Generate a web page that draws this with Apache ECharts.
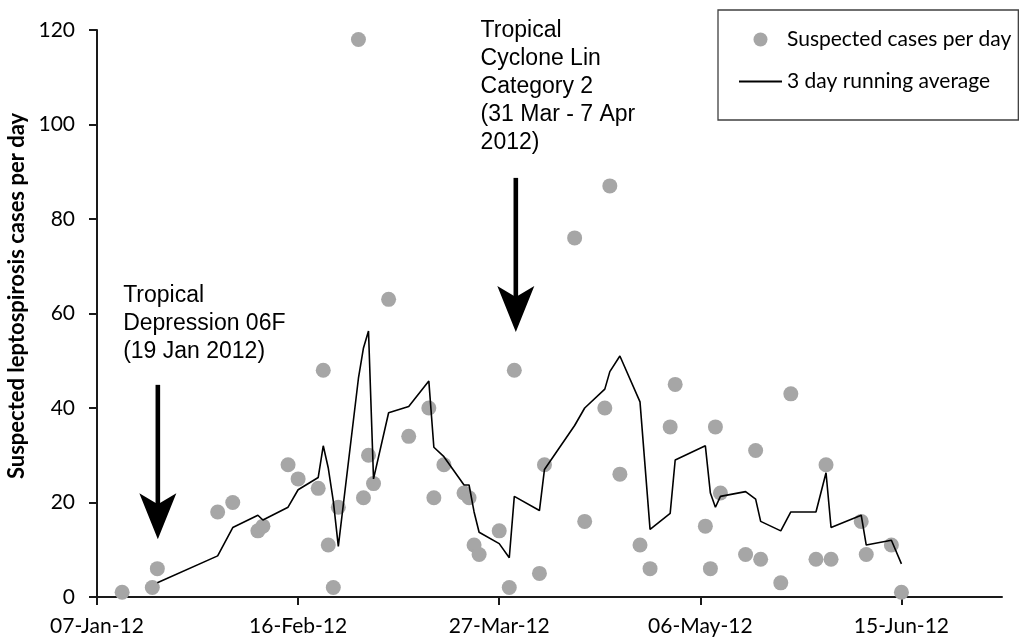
<!DOCTYPE html>
<html>
<head>
<meta charset="utf-8">
<script src="https://cdn.jsdelivr.net/npm/echarts@6/dist/echarts.min.js"></script>
<style>
html,body{margin:0;padding:0;background:#fff;}
#chart{width:1027px;height:639px;}
</style>
</head>
<body>
<div id="chart"></div>
<script>
// ---- data ----
const caseDates = [
  '2012-01-12','2012-01-18','2012-01-19','2012-01-31','2012-02-03','2012-02-08','2012-02-09',
  '2012-02-14','2012-02-16','2012-02-20','2012-02-21','2012-02-22','2012-02-23','2012-02-24',
  '2012-02-28','2012-02-29','2012-03-01','2012-03-02','2012-03-05','2012-03-09','2012-03-13',
  '2012-03-14','2012-03-16','2012-03-20','2012-03-21','2012-03-22','2012-03-23','2012-03-27',
  '2012-03-29','2012-03-30','2012-04-04','2012-04-05','2012-04-11','2012-04-13','2012-04-17',
  '2012-04-18','2012-04-20','2012-04-24','2012-04-26','2012-04-30','2012-05-01','2012-05-07',
  '2012-05-08','2012-05-09','2012-05-10','2012-05-15','2012-05-17','2012-05-18','2012-05-22',
  '2012-05-24','2012-05-29','2012-05-31','2012-06-01','2012-06-07','2012-06-08','2012-06-13',
  '2012-06-15'
];
const caseValues = [
  1, 2, 6, 18, 20, 14, 15,
  28, 25, 23, 48, 11, 2, 19,
  118, 21, 30, 24, 63, 34, 40,
  21, 28, 22, 21, 11, 9, 14,
  2, 48, 5, 28, 76, 16, 40,
  87, 26, 11, 6, 36, 45, 15,
  6, 36, 22, 9, 31, 8, 3,
  43, 8, 28, 8, 16, 9, 11,
  1
];
const avgDates = [
  '2012-01-19','2012-01-31','2012-02-03','2012-02-08','2012-02-09',
  '2012-02-14','2012-02-16','2012-02-20','2012-02-21','2012-02-22','2012-02-23','2012-02-24',
  '2012-02-28','2012-02-29','2012-03-01','2012-03-02','2012-03-05','2012-03-09','2012-03-13',
  '2012-03-14','2012-03-16','2012-03-20','2012-03-21','2012-03-22','2012-03-23','2012-03-27',
  '2012-03-29','2012-03-30','2012-04-04','2012-04-05','2012-04-11','2012-04-13','2012-04-17',
  '2012-04-18','2012-04-20','2012-04-24','2012-04-26','2012-04-30','2012-05-01','2012-05-07',
  '2012-05-08','2012-05-09','2012-05-10','2012-05-15','2012-05-17','2012-05-18','2012-05-22',
  '2012-05-24','2012-05-29','2012-05-31','2012-06-01','2012-06-07','2012-06-08','2012-06-13',
  '2012-06-15'
];
const avgValues = [
  3, 8.7, 14.7, 17.3, 16.3,
  19, 22.7, 25.3, 32, 27.3, 20.3, 10.7,
  46.3, 52.7, 56.3, 25, 39, 40.3, 45.7,
  31.7, 29.7, 23.7, 23.7, 18, 13.7, 11.3,
  8.3, 21.3, 18.3, 27, 36.3, 40, 44,
  47.7, 51, 41.3, 14.3, 17.7, 29, 32,
  22, 19, 21.3, 22.3, 20.7, 16, 14,
  18, 18, 26.3, 14.7, 17.3, 11, 12,
  7
];
const xTickDays = [0, 40, 80, 120, 160];
const xTickLabels = ['07-Jan-12', '16-Feb-12', '27-Mar-12', '06-May-12', '15-Jun-12'];
const seriesNames = ['Suspected cases per day', '3 day running average'];
const yAxisTitle = 'Suspected leptospirosis cases per day';
const note1 = 'Tropical\nDepression 06F\n(19 Jan 2012)';
const note2 = 'Tropical\nCyclone Lin\nCategory 2\n(31 Mar - 7 Apr\n2012)';

// ---- helpers ----
const BASE = Date.UTC(2012, 0, 7);
function dayOf(s) {
  const p = s.split('-').map(Number);
  return Math.round((Date.UTC(p[0], p[1] - 1, p[2]) - BASE) / 86400000);
}
const scatterData = caseDates.map((d, i) => [dayOf(d), caseValues[i]]);
const lineData = avgDates.map((d, i) => [dayOf(d), avgValues[i]]);

const chart = echarts.init(document.getElementById('chart'), null, {renderer: 'canvas'});
const axisColor = '#1a1a1a';
const labelFont = 'Lato';

chart.setOption({
  animation: false,
  backgroundColor: '#ffffff',
  grid: {left: 97, right: 25, top: 30, bottom: 42, outerBoundsMode: 'none'},
  legend: {
    orient: 'vertical',
    left: 718, top: 10,
    padding: [19, 7, 28, 21],
    itemGap: 21,
    itemWidth: 43, itemHeight: 14,
    borderColor: '#404040', borderWidth: 1.3,
    textStyle: {fontFamily: labelFont, fontSize: 21, color: '#000'},
    data: [
      {name: seriesNames[0], icon: 'circle'},
      {name: seriesNames[1], icon: 'path://M0,0L43,0L43,2L0,2Z'}
    ]
  },
  xAxis: {
    type: 'value',
    min: 0, max: 180, interval: 40,
    splitLine: {show: false},
    axisLine: {show: true, onZero: false, lineStyle: {color: axisColor, width: 2}},
    axisTick: {show: true, inside: false, length: 8, lineStyle: {color: axisColor, width: 2}, customValues: xTickDays},
    axisLabel: {
      customValues: xTickDays,
      margin: 19,
      fontFamily: labelFont, fontSize: 21, color: '#000',
      formatter: v => xTickLabels[xTickDays.indexOf(v)] || ''
    }
  },
  yAxis: {
    type: 'value',
    min: 0, max: 120, interval: 20,
    splitLine: {show: false},
    axisLine: {show: true, lineStyle: {color: axisColor, width: 2}},
    axisTick: {show: true, length: 8, lineStyle: {color: axisColor, width: 2}},
    axisLabel: {margin: 22, fontFamily: labelFont, fontSize: 21, color: '#000'},
    name: yAxisTitle,
    nameLocation: 'middle',
    nameRotate: 90,
    nameGap: 66,
    nameTextStyle: {fontFamily: labelFont, fontSize: 22, fontWeight: 'bold', color: '#000', padding: [0, 0, 0, 35]}
  },
  series: [
    {
      name: seriesNames[0],
      type: 'scatter',
      data: scatterData,
      symbol: 'circle',
      symbolSize: 15,
      itemStyle: {color: '#A6A6A6', opacity: 1},
      z: 2
    },
    {
      name: seriesNames[1],
      type: 'line',
      data: lineData,
      symbol: 'none',
      showSymbol: false,
      lineStyle: {color: '#000', width: 1.6},
      itemStyle: {color: '#000'},
      z: 3
    }
  ]
});

// ---- annotations (positioned in data space, converted via the axes) ----
function px(d, v) { return chart.convertToPixel({gridIndex: 0}, [d, v]); }
function arrow(d, vTop, vTip) {
  const a = px(d, vTop), t = px(d, vTip);
  const hw = 18.5, hl = 46, notch = 35;
  return [
    {type: 'line', shape: {x1: a[0], y1: a[1], x2: t[0], y2: t[1] - notch + 2},
     style: {stroke: '#000', lineWidth: 4.6}, z: 10},
    {type: 'polygon', shape: {points: [[t[0], t[1]], [t[0] + hw, t[1] - hl], [t[0], t[1] - notch], [t[0] - hw, t[1] - hl]]},
     style: {fill: '#000'}, z: 10}
  ];
}
function note(text, d, v) {
  const p = px(d, v);
  return {type: 'text', x: p[0], y: p[1], z: 10,
    style: {text: text, fontFamily: '"Liberation Sans", Arial, sans-serif', fontSize: 23, lineHeight: 28,
            fill: '#000', align: 'left', verticalAlign: 'top'}};
}
chart.setOption({
  graphic: [].concat(
    arrow(12.1, 44.9, 12.2),
    arrow(83.3, 88.7, 56.1),
    [note(note1, 5.2, 66.8), note(note2, 76.3, 122.8)]
  )
});
</script>
</body>
</html>
